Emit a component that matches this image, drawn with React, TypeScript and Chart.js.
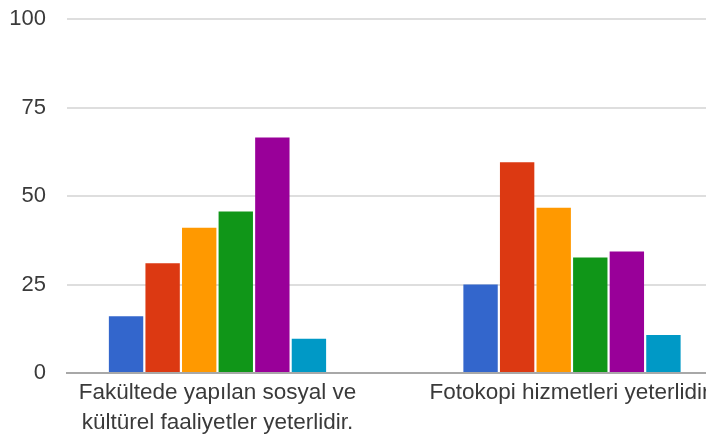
import React, { useEffect, useRef } from "react";
import { Chart, registerables } from "chart.js";

Chart.register(...registerables);

const categories: (string | string[])[] = [
  ["Fakültede yapılan sosyal ve", "kültürel faaliyetler yeterlidir."],
  "Fotokopi hizmetleri yeterlidir.",
];
const seriesColors = ["#3366cc", "#dc3912", "#ff9900", "#109618", "#990099", "#0099c6"];
const seriesValues: number[][] = [
  [16, 25],
  [31, 59.5],
  [41, 46.7],
  [45.6, 32.6],
  [66.5, 34.3],
  [9.7, 10.7],
];
const yTicks = [0, 25, 50, 75, 100];

const FONT = '"Liberation Sans", Arial, sans-serif';

export default function App() {
  const ref = useRef<HTMLCanvasElement | null>(null);
  useEffect(() => {
    document.body.style.margin = "0";
    const canvas = ref.current!;
    const chart = new Chart(canvas, {
      type: "bar",
      data: {
        datasets: seriesValues.map((vals, i) => ({
          label: "S" + (i + 1),
          data: vals.map((v, j) => ({ x: j, y: v })),
          backgroundColor: seriesColors[i],
          borderWidth: 0,
          categoryPercentage: 0.619,
          barPercentage: 0.94,
        })),
      },
      options: {
        responsive: false,
        animation: false,
        layout: { padding: { top: 19, right: 9, left: 0, bottom: 0 } },
        plugins: { legend: { display: false }, tooltip: { enabled: false } },
        scales: {
          x: {
            type: "linear",
            offset: false,
            min: -0.4245,
            max: 1.378,
            grid: { display: false, drawTicks: false, offset: false },
            border: { display: true, color: "#a8a8a8", width: 2 },
            afterFit: (s: any) => {
              s.height = 68;
              s.paddingLeft = 0;
              s.paddingRight = 0;
            },
            ticks: {
              stepSize: 1,
              includeBounds: false,
              autoSkip: false,
              maxRotation: 0,
              minRotation: 0,
              padding: 5,
              color: "#3a3a3a",
              font: { family: FONT, size: 22.5, lineHeight: 30 / 22.5 },
              callback: (v: any) =>
                Number.isInteger(v) && categories[v] !== undefined ? categories[v] : "",
            },
          },
          y: {
            min: 0,
            max: 100,
            afterBuildTicks: (s: any) => {
              s.ticks = yTicks.map((v) => ({ value: v }));
            },
            afterFit: (s: any) => {
              s.width = 67;
              s.paddingTop = 0;
              s.paddingBottom = 0;
            },
            grid: { color: "#dedede", lineWidth: 2, drawTicks: false },
            border: { display: false },
            ticks: {
              padding: 21,
              color: "#3a3a3a",
              font: { family: FONT, size: 22 },
            },
          },
        },
      },
    } as any);
    return () => chart.destroy();
  }, []);
  return (
    <div style={{ width: 706, height: 441, overflow: "hidden", background: "#fff" }}>
      <canvas ref={ref} width={715} height={441} style={{ width: 715, height: 441, display: "block" }} />
    </div>
  );
}
